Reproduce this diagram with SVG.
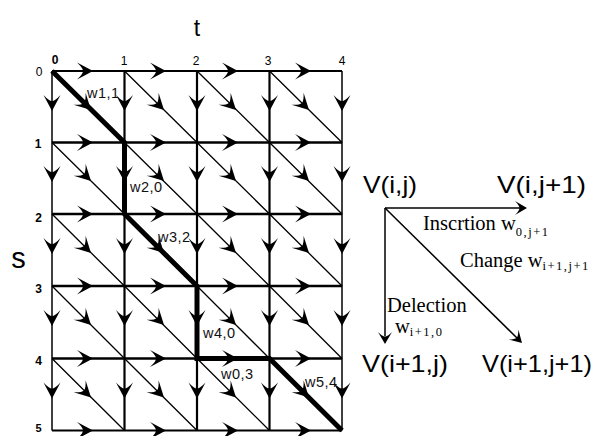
<svg xmlns="http://www.w3.org/2000/svg" xmlns:xlink="http://www.w3.org/1999/xlink" width="598" height="436" viewBox="0 0 598 436">
<style>
.h{stroke:#000;stroke-width:2.6;fill:none}
.he{stroke:#000;stroke-width:1.8;fill:none}
.v{stroke:#000;stroke-width:2.2;fill:none}
.ve{stroke:#000;stroke-width:1.5;fill:none}
.d{stroke:#000;stroke-width:1.3;fill:none}
.thick{stroke:#000;stroke-width:5;fill:none;stroke-linejoin:miter}
.num{font-family:"Liberation Sans",Arial,sans-serif;font-size:12px;fill:#000}
.b{font-weight:bold}
.big{font-family:"Liberation Sans",Arial,sans-serif;font-size:23px;fill:#000}
.w{font-family:"Liberation Sans",Arial,sans-serif;font-size:14.5px;letter-spacing:0.5px;fill:#111}
.V{font-family:"Liberation Sans",Arial,sans-serif;font-size:24px;fill:#000}
.serif{font-family:"Liberation Serif","Times New Roman",serif;font-size:20.5px;fill:#000}
.sub{font-size:12.5px;letter-spacing:1.5px}
.leg{stroke:#000;stroke-width:1.5;fill:none}
</style>
<defs>
<path id="ah" d="M0,0 L-16,-8.5 Q-10,-3 -10,0 Q-10,3 -16,8.5 Z" fill="#000"/>
<path id="ahs" d="M0,0 L-12,-7 Q-7.5,-2.5 -7.5,0 Q-7.5,2.5 -12,7 Z" fill="#000"/>
</defs>

<g id="grid">
<line class="he" x1="52" y1="71" x2="342" y2="71"/>
<line class="h" x1="52" y1="142.5" x2="342" y2="142.5"/>
<line class="h" x1="52" y1="214" x2="342" y2="214"/>
<line class="h" x1="52" y1="286" x2="342" y2="286"/>
<line class="h" x1="52" y1="358.5" x2="342" y2="358.5"/>
<line class="he" x1="52" y1="430.5" x2="342" y2="430.5"/>
<line class="ve" x1="52" y1="71" x2="52" y2="430.5"/>
<line class="v" x1="124.5" y1="71" x2="124.5" y2="430.5"/>
<line class="v" x1="197" y1="71" x2="197" y2="430.5"/>
<line class="v" x1="269.5" y1="71" x2="269.5" y2="430.5"/>
<line class="ve" x1="342" y1="71" x2="342" y2="430.5"/>
<path class="d" d="M124.5,71 L197,142.5 M197,71 L269.5,142.5 M269.5,71 L342,142.5"/>
<path class="d" d="M52,142.5 L124.5,214 M124.5,142.5 L197,214 M197,142.5 L269.5,214 M269.5,142.5 L342,214"/>
<path class="d" d="M52,214 L124.5,286 M197,214 L269.5,286 M269.5,214 L342,286"/>
<path class="d" d="M52,286 L124.5,358.5 M124.5,286 L197,358.5 M197,286 L269.5,358.5 M269.5,286 L342,358.5"/>
<path class="d" d="M52,358.5 L124.5,430.5 M124.5,358.5 L197,430.5 M197,358.5 L269.5,430.5"/>
</g>

<g id="best-path">
<polyline class="thick" points="52,71 124.5,142.5 124.5,214 197,286 197,358.5 269.5,358.5 342,430.5"/>
</g>

<g id="connectors">
<use xlink:href="#ah" href="#ah" transform="translate(93,71)"/>
<use xlink:href="#ah" href="#ah" transform="translate(166,71)"/>
<use xlink:href="#ah" href="#ah" transform="translate(238,71)"/>
<use xlink:href="#ah" href="#ah" transform="translate(311,71)"/>
<use xlink:href="#ah" href="#ah" transform="translate(93,142.5)"/>
<use xlink:href="#ah" href="#ah" transform="translate(166,142.5)"/>
<use xlink:href="#ah" href="#ah" transform="translate(238,142.5)"/>
<use xlink:href="#ah" href="#ah" transform="translate(311,142.5)"/>
<use xlink:href="#ah" href="#ah" transform="translate(93,214)"/>
<use xlink:href="#ah" href="#ah" transform="translate(166,214)"/>
<use xlink:href="#ah" href="#ah" transform="translate(238,214)"/>
<use xlink:href="#ah" href="#ah" transform="translate(311,214)"/>
<use xlink:href="#ah" href="#ah" transform="translate(93,286)"/>
<use xlink:href="#ah" href="#ah" transform="translate(166,286)"/>
<use xlink:href="#ah" href="#ah" transform="translate(238,286)"/>
<use xlink:href="#ah" href="#ah" transform="translate(311,286)"/>
<use xlink:href="#ah" href="#ah" transform="translate(93,358.5)"/>
<use xlink:href="#ah" href="#ah" transform="translate(166,358.5)"/>
<use xlink:href="#ah" href="#ah" transform="translate(238,358.5)"/>
<use xlink:href="#ah" href="#ah" transform="translate(311,358.5)"/>
<use xlink:href="#ah" href="#ah" transform="translate(93,430.5)"/>
<use xlink:href="#ah" href="#ah" transform="translate(166,430.5)"/>
<use xlink:href="#ah" href="#ah" transform="translate(238,430.5)"/>
<use xlink:href="#ah" href="#ah" transform="translate(311,430.5)"/>
<use xlink:href="#ah" href="#ah" transform="translate(52,111) rotate(90)"/>
<use xlink:href="#ah" href="#ah" transform="translate(52,182) rotate(90)"/>
<use xlink:href="#ah" href="#ah" transform="translate(52,254) rotate(90)"/>
<use xlink:href="#ah" href="#ah" transform="translate(52,326) rotate(90)"/>
<use xlink:href="#ah" href="#ah" transform="translate(52,398.5) rotate(90)"/>
<use xlink:href="#ah" href="#ah" transform="translate(124.5,111) rotate(90)"/>
<use xlink:href="#ah" href="#ah" transform="translate(124.5,182) rotate(90)"/>
<use xlink:href="#ah" href="#ah" transform="translate(124.5,254) rotate(90)"/>
<use xlink:href="#ah" href="#ah" transform="translate(124.5,326) rotate(90)"/>
<use xlink:href="#ah" href="#ah" transform="translate(124.5,398.5) rotate(90)"/>
<use xlink:href="#ah" href="#ah" transform="translate(197,111) rotate(90)"/>
<use xlink:href="#ah" href="#ah" transform="translate(197,182) rotate(90)"/>
<use xlink:href="#ah" href="#ah" transform="translate(197,254) rotate(90)"/>
<use xlink:href="#ah" href="#ah" transform="translate(197,326) rotate(90)"/>
<use xlink:href="#ah" href="#ah" transform="translate(197,398.5) rotate(90)"/>
<use xlink:href="#ah" href="#ah" transform="translate(269.5,111) rotate(90)"/>
<use xlink:href="#ah" href="#ah" transform="translate(269.5,182) rotate(90)"/>
<use xlink:href="#ah" href="#ah" transform="translate(269.5,254) rotate(90)"/>
<use xlink:href="#ah" href="#ah" transform="translate(269.5,326) rotate(90)"/>
<use xlink:href="#ah" href="#ah" transform="translate(269.5,398.5) rotate(90)"/>
<use xlink:href="#ah" href="#ah" transform="translate(342,111) rotate(90)"/>
<use xlink:href="#ah" href="#ah" transform="translate(342,182) rotate(90)"/>
<use xlink:href="#ah" href="#ah" transform="translate(342,254) rotate(90)"/>
<use xlink:href="#ah" href="#ah" transform="translate(342,326) rotate(90)"/>
<use xlink:href="#ah" href="#ah" transform="translate(342,398.5) rotate(90)"/>
<use xlink:href="#ah" href="#ah" transform="translate(91,110) rotate(44.6)"/>
<use xlink:href="#ah" href="#ah" transform="translate(164,110) rotate(44.6)"/>
<use xlink:href="#ah" href="#ah" transform="translate(236,110) rotate(44.6)"/>
<use xlink:href="#ah" href="#ah" transform="translate(309,110) rotate(44.6)"/>
<use xlink:href="#ah" href="#ah" transform="translate(91,181) rotate(44.6)"/>
<use xlink:href="#ah" href="#ah" transform="translate(164,181) rotate(44.6)"/>
<use xlink:href="#ah" href="#ah" transform="translate(236,181) rotate(44.6)"/>
<use xlink:href="#ah" href="#ah" transform="translate(309,181) rotate(44.6)"/>
<use xlink:href="#ah" href="#ah" transform="translate(91,253) rotate(44.6)"/>
<use xlink:href="#ah" href="#ah" transform="translate(164,253) rotate(44.6)"/>
<use xlink:href="#ah" href="#ah" transform="translate(236,253) rotate(44.6)"/>
<use xlink:href="#ah" href="#ah" transform="translate(309,253) rotate(44.6)"/>
<use xlink:href="#ah" href="#ah" transform="translate(91,325) rotate(44.6)"/>
<use xlink:href="#ah" href="#ah" transform="translate(164,325) rotate(44.6)"/>
<use xlink:href="#ah" href="#ah" transform="translate(236,325) rotate(44.6)"/>
<use xlink:href="#ah" href="#ah" transform="translate(309,325) rotate(44.6)"/>
<use xlink:href="#ah" href="#ah" transform="translate(91,397.5) rotate(44.6)"/>
<use xlink:href="#ah" href="#ah" transform="translate(164,397.5) rotate(44.6)"/>
<use xlink:href="#ah" href="#ah" transform="translate(236,397.5) rotate(44.6)"/>
<use xlink:href="#ah" href="#ah" transform="translate(309,397.5) rotate(44.6)"/>
</g>

<g id="axis-labels">
<text class="big" x="197" y="36" text-anchor="middle">t</text>
<text class="big" x="18.5" y="268" text-anchor="middle" style="font-size:29px">s</text>
<text class="num b" x="55" y="64" text-anchor="middle">0</text>
<text class="num" x="124" y="65" text-anchor="middle">1</text>
<text class="num" x="196" y="65" text-anchor="middle">2</text>
<text class="num" x="268" y="65" text-anchor="middle">3</text>
<text class="num" x="342" y="65" text-anchor="middle">4</text>
<text class="num" x="39" y="76" text-anchor="middle">0</text>
<text class="num b" x="38" y="148" text-anchor="middle">1</text>
<text class="num b" x="38.5" y="222" text-anchor="middle">2</text>
<text class="num b" x="38.5" y="293" text-anchor="middle">3</text>
<text class="num b" x="38.5" y="365" text-anchor="middle">4</text>
<text class="num b" x="38.5" y="432" text-anchor="middle" style="font-size:11px">5</text>
</g>

<g id="weight-labels">
<text class="w" x="87" y="98">w1,1</text>
<text class="w" x="130" y="192">w2,0</text>
<text class="w" x="158" y="242">w3,2</text>
<text class="w" x="203" y="338">w4,0</text>
<text class="w" x="221" y="379">w0,3</text>
<text class="w" x="305" y="387">w5,4</text>
</g>

<g id="legend-connectors">
<line class="leg" x1="385" y1="208" x2="520" y2="208"/>
<line class="leg" x1="385" y1="208" x2="385" y2="336"/>
<line class="leg" x1="385" y1="208" x2="517" y2="338"/>
<use xlink:href="#ahs" href="#ahs" transform="translate(527,208)"/>
<use xlink:href="#ahs" href="#ahs" transform="translate(385,344) rotate(90)"/>
<use xlink:href="#ahs" href="#ahs" transform="translate(522,343) rotate(44.6)"/>
</g>

<g id="node-vij"><text class="V" x="363" y="193" textLength="54" lengthAdjust="spacingAndGlyphs">V(i,j)</text></g>
<g id="node-vij1"><text class="V" x="497" y="193" textLength="89" lengthAdjust="spacingAndGlyphs">V(i,j+1)</text></g>
<g id="node-vi1j"><text class="V" x="362" y="372" textLength="86" lengthAdjust="spacingAndGlyphs">V(i+1,j)</text></g>
<g id="node-vi1j1"><text class="V" x="482" y="372" textLength="110" lengthAdjust="spacingAndGlyphs">V(i+1,j+1)</text></g>

<g id="legend-labels">
<text class="serif" x="423" y="230">Inscrtion w<tspan class="sub" dy="6">0,j+1</tspan></text>
<text class="serif" x="460" y="267">Change w<tspan class="sub" dy="3">i+1,j+1</tspan></text>
<text class="serif" x="387" y="312">Delection</text>
<text class="serif" x="395" y="333">w<tspan class="sub" dy="3">i+1,0</tspan></text>
</g>
</svg>
